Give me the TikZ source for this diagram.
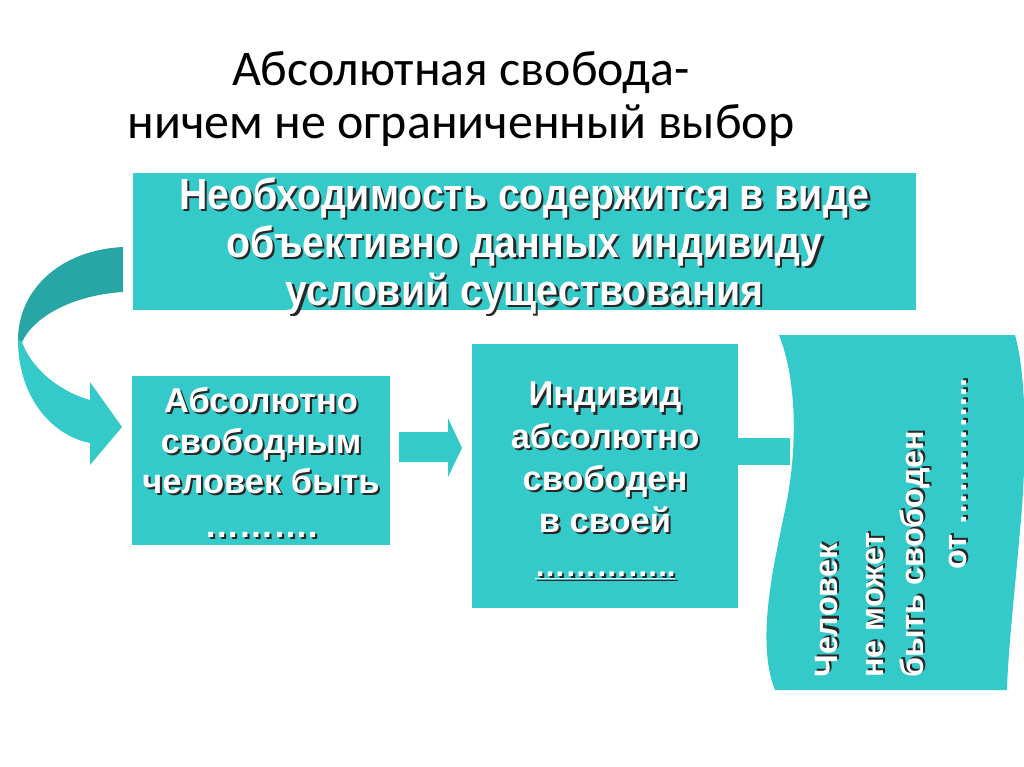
\documentclass[tikz,border=0pt]{standalone}
\usepackage{fontspec}
\setmainfont{Liberation Sans}
\newfontfamily\titlefont{Carlito}
\newfontfamily\narrowfont[FakeStretch=0.9]{Liberation Sans}
\usetikzlibrary{positioning}

\definecolor{turq}{RGB}{52,202,202}
\definecolor{turqdark}{RGB}{40,165,165}
\definecolor{shadowgray}{RGB}{40,40,40}
\newcommand{\shd}[1]{\rlap{\kern1.5pt\raisebox{-1.5pt}{\textcolor{shadowgray}{#1}}}#1}

\begin{document}
\begin{tikzpicture}[x=0.025cm, y=-0.025cm,
  panel/.style = {fill=turq, inner sep=0pt},
  paneltext/.style = {text=white, align=center, inner sep=0pt},
  wavetext/.style = {rotate=90, anchor=base west, inner sep=0pt, text=white, font=\bfseries\fontsize{23}{26}\selectfont}]
  \useasboundingbox (0,0) rectangle (1024,767);

  % heading
  \node[font=\titlefont\fontsize{35.5}{37.6}\selectfont, align=center] (title) at (461,99) {Абсолютная свобода-\\ничем не ограниченный выбор};

  % boxes
  \node[panel, minimum width=19.575cm, minimum height=3.425cm] (need) at (524.5,241.5) {};
  \node[paneltext, font=\narrowfont\bfseries\fontsize{31}{34}\selectfont] (needtext) at ([yshift=-4pt]need.center)
    {\shd{Необходимость содержится в виде}\\\shd{объективно данных индивиду}\\\shd{условий существования}};
  \node[panel, minimum width=6.45cm, minimum height=4.225cm] (abs) at (261,460.5) {};
  \node[paneltext, font=\bfseries\fontsize{24.5}{29}\selectfont] (abstext) at ([yshift=-2pt]abs.center)
    {\shd{Абсолютно}\\\shd{свободным}\\\shd{человек быть}\\[2pt]\shd{……….}};
  \node[panel, minimum width=6.65cm, minimum height=6.6cm] (ind) at (605,476) {};
  \node[paneltext, font=\bfseries\fontsize{24.5}{30}\selectfont] (indtext) at ([yshift=-4pt]ind.center)
    {\shd{Индивид}\\\shd{абсолютно}\\\shd{свободен}\\\shd{в своей}\\[1pt]\shd{\underline{\fontsize{22}{30}\selectfont…………..}}};

  % curved arrow
  \fill[turqdark] (123,247) .. controls (60,250) and (18,290) .. (18,340) -- (22,342)
    .. controls (35,315) and (75,295) .. (123,292) -- cycle;
  \fill[turq] (18,340) .. controls (18,395) and (50,435) .. (90,443) -- (90,465) -- (122,427) -- (90,382) -- (90,400)
    .. controls (55,390) and (30,365) .. (22,342) -- cycle;

  % arrow between boxes
  \fill[turq] (399,432) -- (448,432) -- (448,418) -- (462,448) -- (448,477) -- (448,462) -- (399,462) -- cycle;

  % wave
  \coordinate (barend) at (790,465);
  \coordinate (bartop) at (0,438);
  \fill[turq] (779,335) -- (1015,335) .. controls (1028,380) and (1026,470) .. (1020,530)
    .. controls (1015,590) and (1008,650) .. (1007,690) -- (775,690)
    .. controls (755,640) and (775,560) .. (785,510) .. controls (798,450) and (797,380) .. (779,335) -- cycle;
  \fill[turq] (ind.east |- bartop) rectangle (barend);

  \node[wavetext] (w1) at (837,678) {\shd{Человек}};
  \node[wavetext] (w2) at (883,678) {\shd{не может}};
  \node[wavetext] (w3) at (923,678) {\shd{быть свободен}};
  \node[wavetext] (w4) at (966,570) {\shd{от …………..}};
\end{tikzpicture}
\end{document}
